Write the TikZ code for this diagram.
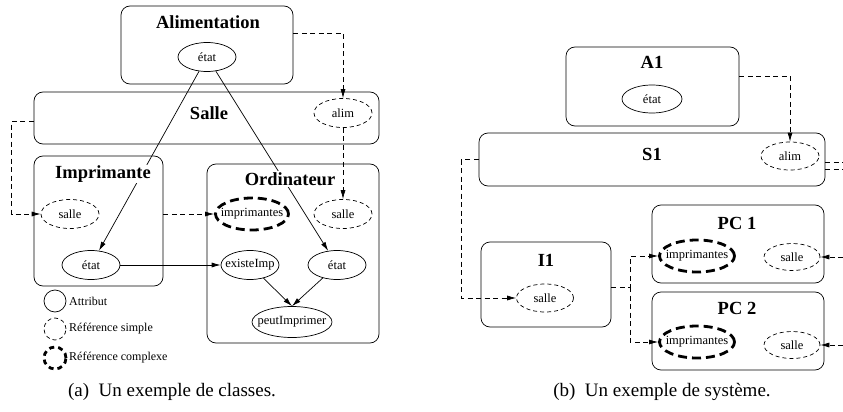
\documentclass[tikz,border=0pt]{standalone}
\usepackage{fontspec}
\setmainfont{Liberation Serif}
\usetikzlibrary{arrows.meta,shapes.geometric}

\begin{document}
\begin{tikzpicture}[x=1pt, y=-1pt,
    classe/.style={draw, rounded corners=9pt, line width=0.7pt, inner sep=0pt},
    titre/.style={fill=white, inner sep=1pt, font=\fontsize{18.5}{18.5}\selectfont\bfseries},
    attr/.style={draw, ellipse, line width=0.7pt, inner sep=0pt,
        minimum width=58pt, minimum height=29pt, font=\fontsize{12.5}{12.5}\selectfont,
        execute at begin node={\hbox to 0pt\bgroup\hss}, execute at end node={\hss\egroup}},
    refs/.style={attr, dash pattern=on 4pt off 3pt},
    refc/.style={attr, line width=2.8pt, dash pattern=on 9pt off 5pt},
    fl/.style={-{Latex[length=9pt,width=5pt]}, line width=0.7pt},
    fld/.style={fl, dash pattern=on 5pt off 3.5pt},
    legende/.style={circle, draw, line width=0.7pt, minimum size=22pt, inner sep=0pt},
    texte/.style={anchor=west, inner sep=0pt, font=\fontsize{12}{12}\selectfont},
    legendebas/.style={font=\fontsize{19}{19}\selectfont}]
    \useasboundingbox (0,0) rectangle (843,412);
    % (a) classes
    \node[classe, minimum width=172pt, minimum height=78pt] (alimentation) at (207,45) {};
    \node[classe, minimum width=345pt, minimum height=52pt] (salle) at (206.5,118) {};
    \node[classe, minimum width=129pt, minimum height=130pt] (imprimante) at (98.5,221) {};
    \node[classe, minimum width=172pt, minimum height=179pt] (ordinateur) at (293,253.5) {};
    \node[attr] (al etat) at (207,57) {état};
    \node[refs] (sa alim) at (343,113) {alim};
    \node[refs] (im salle) at (70,214) {salle};
    \node[attr] (im etat) at (91,265) {état};
    \node[refc, minimum width=73pt, minimum height=32pt] (or imps) at (252,214) {imprimantes};
    \node[refs] (or salle) at (343,214) {salle};
    \node[attr] (or existe) at (250,265) {existeImp};
    \node[attr] (or etat) at (337,265) {état};
    \node[attr, minimum width=80pt, minimum height=31pt] (or peut) at (292,322) {peutImprimer};
    % liens
    \draw[fl] (al etat) -- (im etat);
    \draw[fl] (al etat) -- (or etat);
    \draw[fld] ([yshift=12pt]alimentation.east) -| (sa alim.north);
    \draw[fld] (sa alim.south) -- (or salle.north);
    \draw[fld] ([yshift=-3pt]salle.west) -- ++(-22,0) |- (im salle.west);
    \draw[fld] (imprimante.east |- im salle) -- (or imps.west);
    \draw[fl] (im etat) -- (or existe);
    \draw[fl] (or existe) -- (or peut.north);
    \draw[fl] (or etat) -- (or peut.north);
    \node[titre] (t alimentation) at (208,22) {Alimentation};
    \node[titre] (t salle) at (209,113) {Salle};
    \node[titre] (t imprimante) at (103,174) {Imprimante};
    \node[titre] (t ordinateur) at (290,179) {Ordinateur};
    % legende
    \node[legende] (leg attr) at (55,301) {};
    \node[legende, dash pattern=on 4pt off 3pt] (leg simple) at (55,329) {};
    \node[legende, line width=2.8pt, dash pattern=on 5pt off 4pt] (leg complexe) at (55,358) {};
    \node[texte] (l attr) at (69,301) {Attribut};
    \node[texte] (l simple) at (69,329) {Référence simple};
    \node[texte] (l complexe) at (69,358) {Référence complexe};
    \node[legendebas] (cap a) at (172,392) {(a)~~Un exemple de classes.};
    % (b) systeme
    \node[classe, minimum width=173pt, minimum height=79pt] (A1) at (652.5,86.5) {};
    \node[classe, minimum width=346pt, minimum height=53pt] (S1) at (652,159.5) {};
    \node[classe, minimum width=130pt, minimum height=85pt] (I1) at (546,284.5) {};
    \node[classe, minimum width=172pt, minimum height=78pt] (PC1) at (738,244) {};
    \node[classe, minimum width=172pt, minimum height=78pt] (PC2) at (738,331) {};
    \node[attr, minimum width=60pt, minimum height=28pt] (a1 etat) at (652,99) {état};
    \node[refs, minimum height=28pt] (s1 alim) at (790,156) {alim};
    \node[refs, minimum width=57pt, minimum height=28pt] (i1 salle) at (545,298) {salle};
    \node[refc, minimum width=75pt, minimum height=32pt] (pc1 imps) at (697,256) {imprimantes};
    \node[refs, minimum width=56pt, minimum height=27pt] (pc1 salle) at (792,257) {salle};
    \node[refc, minimum width=75pt, minimum height=32pt] (pc2 imps) at (697,342) {imprimantes};
    \node[refs, minimum width=56pt, minimum height=27pt] (pc2 salle) at (792,345) {salle};
    \coordinate (sortie haut) at (843,162);
    \coordinate (sortie bas) at (843,169);
    \coordinate (entree pc1) at (843,257);
    \coordinate (entree pc2) at (843,345);
    % liens
    \draw[fld] ([yshift=10.5pt]A1.east) -| (s1 alim.north);
    \draw[fld] (S1.west) -- ++(-17,0) |- (i1 salle.west);
    \draw[fld] ([yshift=-2.5pt]I1.east) -- ++(19,0) coordinate (fourche) |- (pc1 imps.west);
    \draw[fld] (fourche) |- (pc2 imps.west);
    \draw[fld, -] ([yshift=-2.5pt]S1.east) -- (sortie haut);
    \draw[fld, -] ([yshift=-9.5pt]S1.east) -- (sortie bas);
    \draw[fld] (entree pc1) -- (pc1 salle.east);
    \draw[fld] (entree pc2) -- (pc2 salle.east);
    \node[titre] (t A1) at (652,62) {A1};
    \node[titre] (t S1) at (652,154) {S1};
    \node[titre] (t I1) at (546,260) {I1};
    \node[titre] (t PC1) at (737,223) {PC 1};
    \node[titre] (t PC2) at (737,308) {PC 2};
    \node[legendebas] (cap b) at (662,392) {(b)~~Un exemple de système.};
\end{tikzpicture}
\end{document}
